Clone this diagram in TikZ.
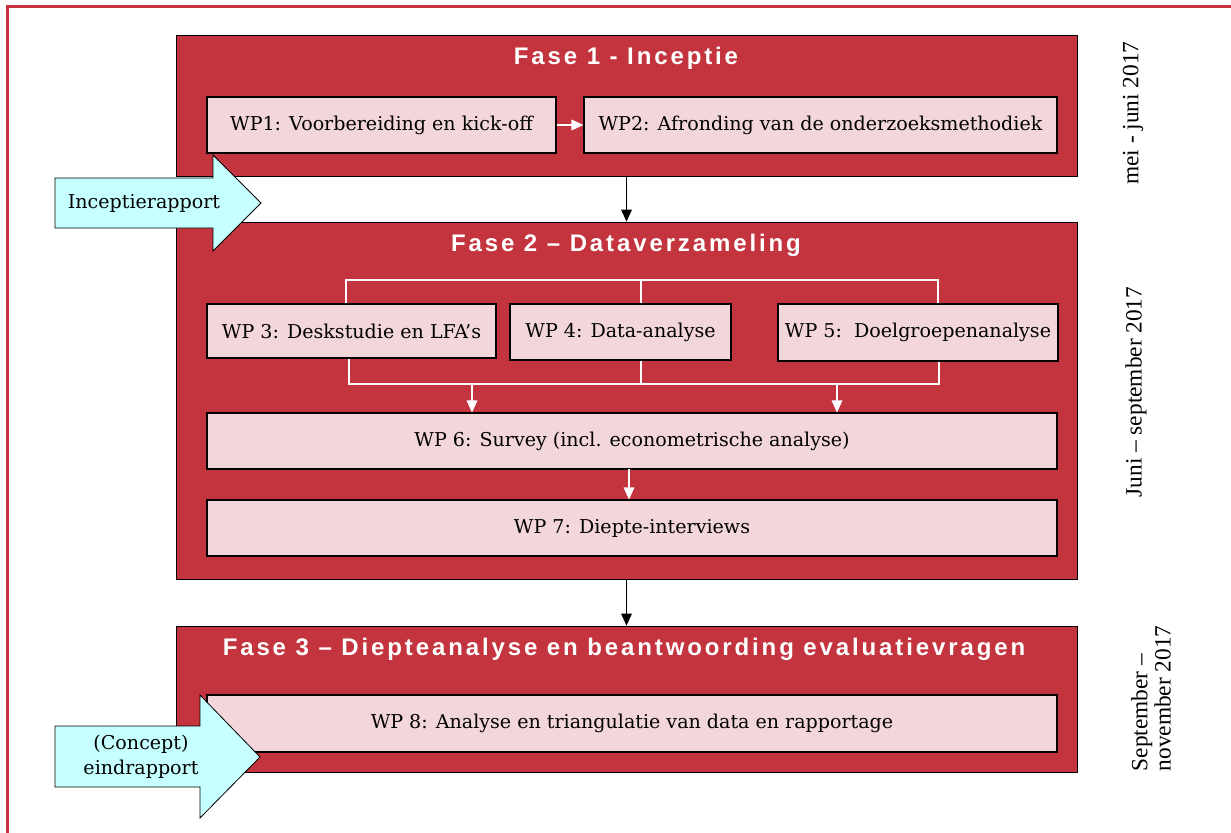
\documentclass[tikz,border=0pt]{standalone}
\usepackage{fontspec}
\setmainfont{DejaVu Serif}
\newfontfamily\titlefont{Liberation Sans}[LetterSpace=12]
\newfontfamily\sidefont{Liberation Serif}
\usetikzlibrary{arrows.meta}
\definecolor{fred}{HTML}{C4343F}
\definecolor{wpink}{HTML}{F2D6D9}
\definecolor{acyan}{HTML}{C6FFFF}
\definecolor{framered}{HTML}{C8323E}
\begin{document}
\begin{tikzpicture}[x=0.75pt,y=-0.75pt,
 fase/.style={draw=black, fill=fred, inner sep=0pt, line width=0.6pt},
 wp/.style={draw=black, fill=wpink, inner sep=0pt, line width=0.8pt, font=\fontsize{14.3}{17}\selectfont},
 sz/.style 2 args={minimum width={#1*0.75pt}, minimum height={#2*0.75pt}},
 ftitle/.style={text=white, font=\titlefont\bfseries\fontsize{18}{21}\selectfont},
 side/.style={rotate=90, font=\sidefont\fontsize{17.5}{17.5}\selectfont, align=left},
 blk/.style={-{Triangle[width=8pt,length=9pt]}, line width=0.8pt, draw=black},
 wht/.style={-{Triangle[width=8pt,length=9pt]}, line width=0.8pt, draw=white, fill=white},
 bar/.style={draw=white, line width=0.8pt},
 blockarrow/.style={draw=black, fill=acyan, line width=0.6pt},
 atext/.style={font=\fontsize{14.3}{19}\selectfont, align=center}
]
\useasboundingbox (0,0) rectangle (1231,832);
\clip (0,0) rectangle (1231,832);
% outer frame
\draw[framered, line width=1.6pt] (7.5,860) -- (7.5,6.5) -- (1260,6.5);

% Fase 1
\node[fase, sz={901}{141}] (f1) at (626.5,105.5) {};
\node[ftitle] (t1) at (626,58) {Fase 1 - Inceptie};
\node[wp, sz={349}{56}] (wp1) at (381.5,125) {WP1: Voorbereiding en kick-off};
\node[wp, sz={473}{56}] (wp2) at (820.5,125) {WP2: Afronding van de onderzoeksmethodiek};
\draw[wht] (wp1.east) -- (wp2.west);

% Fase 2
\node[fase, sz={901}{357}] (f2) at (626.5,400.5) {};
\node[ftitle] (t2) at (626,245) {Fase 2 – Dataverzameling};
\node[wp, sz={289}{54}] (wp3) at (351.5,331) {WP 3: Deskstudie en LFA’s};
\node[wp, sz={221}{56}] (wp4) at (620.5,332) {WP 4: Data-analyse};
\node[wp, sz={280}{57}] (wp5) at (918,332.5) {WP 5:\ \ Doelgroepenanalyse};
\node[wp, sz={850}{56}] (wp6) at (632,441) {WP 6: Survey (incl. econometrische analyse)};
\node[wp, sz={850}{56}] (wp7) at (632,528) {WP 7: Diepte-interviews};

\coordinate (c3) at (346,280);
\coordinate (c4) at (641,280);
\coordinate (c5) at (938,280);
\draw[bar] (wp3.north -| c3) -- (c3) -- (c5) -- (wp5.north -| c5);
\draw[bar] (wp4.north -| c4) -- (c4);
\coordinate (d3) at (349,384);
\coordinate (d4) at (641,384);
\coordinate (d5) at (939,384);
\draw[bar] (wp3.south -| d3) -- (d3) -- (d5) -- (wp5.south -| d5);
\draw[bar] (wp4.south -| d4) -- (d4);
\coordinate (e1) at (472,384);
\coordinate (e2) at (837,384);
\draw[wht] (e1) -- (wp6.north -| e1);
\draw[wht] (e2) -- (wp6.north -| e2);
\coordinate (g1) at (629,469);
\draw[wht] (g1) -- (wp7.north -| g1);

% Fase 3
\node[fase, sz={901}{146}] (f3) at (626.5,699) {};
\node[ftitle] (t3) at (624,649) {Fase 3 – Diepteanalyse en beantwoording evaluatievragen};
\node[wp, sz={850}{57}] (wp8) at (632,723.5) {WP 8: Analyse en triangulatie van data en rapportage};

% phase arrows
\draw[blk] (f1.south) -- (f2.north);
\draw[blk] (f2.south) -- (f3.north);

% block arrows
\draw[blockarrow] (55,178) -- (213,178) -- (213,155) -- (261,203) -- (213,251) -- (213,228) -- (55,228) -- cycle;
\node[atext] (a1) at (144,203) {Inceptierapport};
\draw[blockarrow] (55,726) -- (200,726) -- (200,695) -- (260,757) -- (200,818) -- (200,787) -- (55,787) -- cycle;
\node[atext] (a2) at (141,757) {(Concept)\\eindrapport};

% side labels
\node[side] (s1) at (1133,113) {mei - juni 2017};
\node[side] (s2) at (1136,392) {Juni – september 2017};
\node[side, anchor=west] (s3) at (1151,776) {September –\\november 2017};
\end{tikzpicture}
\end{document}
